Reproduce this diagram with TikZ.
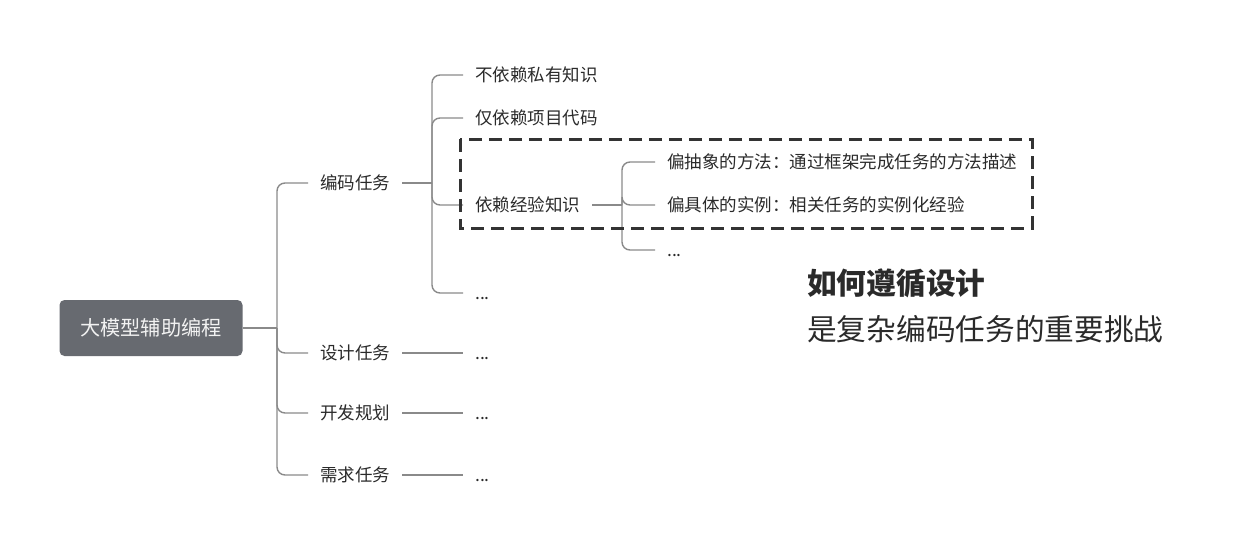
\documentclass[tikz,border=0pt]{standalone}
\usepackage{fontspec}
\setmainfont{Noto Sans CJK SC}
\definecolor{linegray}{HTML}{8A8A8A}
\definecolor{labelgray}{HTML}{2A2A2A}
\definecolor{rootfill}{HTML}{676A70}
\definecolor{boxgray}{HTML}{333333}

\begin{document}
\begin{tikzpicture}[
  x=1pt,
  y=-1pt,
  branch/.style={
    draw=linegray,
    line width=1.4pt,
    rounded corners=8pt
  },
  topic/.style={
    anchor=west,
    inner xsep=12pt,
    inner ysep=0pt,
    text height=15pt,
    text depth=2pt,
    text=labelgray,
    font=\fontsize{17.5}{20}\selectfont
  },
  root/.style={
    fill=rootfill,
    text=white!95!black,
    rounded corners=5pt,
    minimum width=183pt,
    minimum height=56pt,
    font=\fontsize{20.2}{23}\selectfont
  },
  focus/.style={
    draw=boxgray,
    line width=3pt,
    dash pattern=on 13pt off 7pt
  },
  note/.style={
    anchor=west,
    inner sep=0pt,
    text=labelgray,
    font=\fontsize{29.7}{34}\selectfont
  },
]
\useasboundingbox (0,0) rectangle (1245,538);

% root and first level
\node[root] (llm) at (151,328) {大模型辅助编程};
\coordinate (j1) at (277,328);
\node[topic] (code) at (308,183) {编码任务};
\node[topic] (design) at (308,353) {设计任务};
\node[topic] (plan) at (308,413) {开发规划};
\node[topic] (req) at (308,475) {需求任务};
\draw[branch] (llm.east) -- (j1);
\foreach \n in {code,design,plan,req}
  \draw[branch] (j1) |- (\n.west);

% second level
\coordinate (j2) at (432,183);
\node[topic] (priv) at (463,75) {不依赖私有知识};
\node[topic] (proj) at (463,118) {仅依赖项目代码};
\node[topic] (exp) at (463,205) {依赖经验知识};
\node[topic] (more) at (463,293) {...};
\draw[branch] (code.east) -- (j2);
\foreach \n in {priv,proj,exp,more}
  \draw[branch] (j2) |- (\n.west);

% third level
\coordinate (j3) at (622,205);
\node[topic] (abs) at (655,162) {偏抽象的方法：通过框架完成任务的方法描述};
\node[topic] (inst) at (655,205) {偏具体的实例：相关任务的实例化经验};
\node[topic] (etc) at (655,250) {...};
\draw[branch] (exp.east) -- (j3);
\foreach \n in {abs,inst,etc}
  \draw[branch] (j3) |- (\n.west);

% leaves
\node[topic] (d1) at (463,353) {...};
\node[topic] (d2) at (463,413) {...};
\node[topic] (d3) at (463,475) {...};
\draw[branch] (design.east) -- (d1.west);
\draw[branch] (plan.east) -- (d2.west);
\draw[branch] (req.east) -- (d3.west);

% highlight
\draw[focus] (460,139) rectangle (1032,228);
\node[note, font=\fontsize{29.7}{34}\selectfont\bfseries] (how) at (807,283) {如何遵循设计};
\node[note] (hard) at (807,329) {是复杂编码任务的重要挑战};
\end{tikzpicture}
\end{document}
